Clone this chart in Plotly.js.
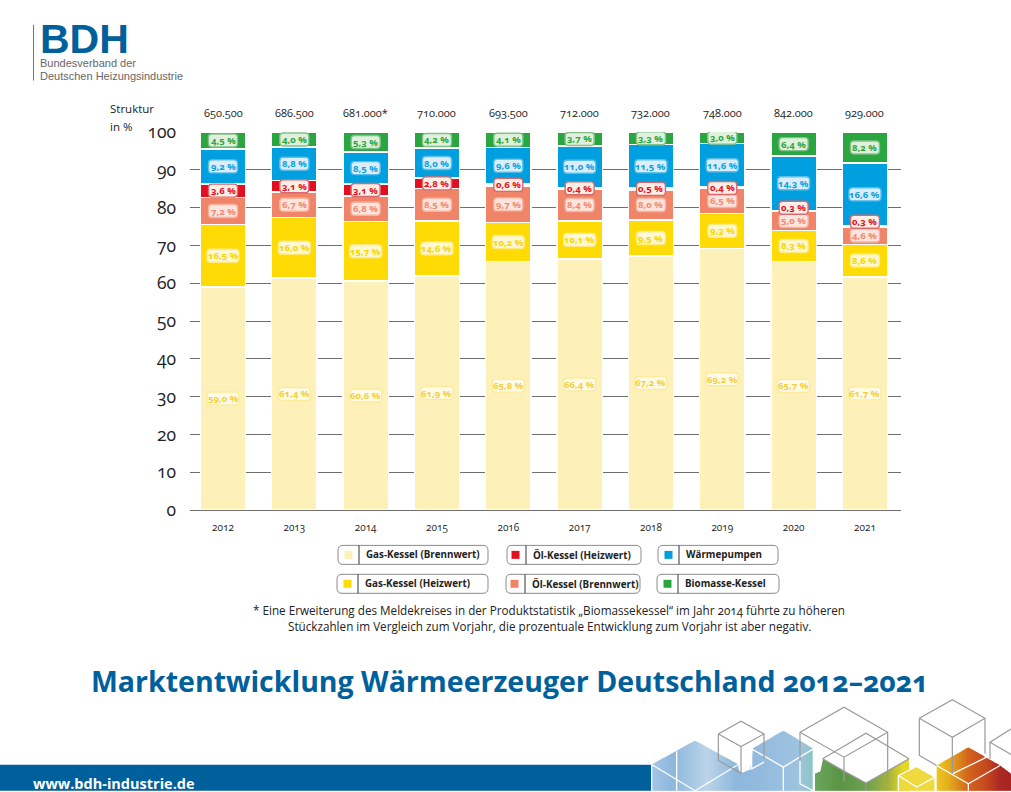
<!DOCTYPE html>
<html><head><meta charset="utf-8">
<script src="https://cdn.plot.ly/plotly-3.0.1.min.js"></script>
<style>html,body{margin:0;padding:0;background:#fff}
#c{width:1011px;height:792px}
svg text{font-feature-settings:"onum" 1,"lnum" 0;font-variant-numeric:oldstyle-nums}</style>
</head><body><div id="c"></div>
<script>
const years=["2012","2013","2014","2015","2016","2017","2018","2019","2020","2021"];
const totals=["650.500","686.500","681.000*","710.000","693.500","712.000","732.000","748.000","842.000","929.000"];
const gasBrennwert=[59.0,61.4,60.6,61.9,65.8,66.4,67.2,69.2,65.7,61.7];
const gasHeizwert=[16.5,16.0,15.7,14.6,10.2,10.1,9.5,9.3,8.3,8.6];
const oelBrennwert=[7.2,6.7,6.8,8.5,9.7,8.4,8.0,6.5,5.0,4.6];
const oelHeizwert=[3.6,3.1,3.1,2.8,0.6,0.4,0.5,0.4,0.3,0.3];
const waermepumpen=[9.2,8.8,8.5,8.0,9.6,11.0,11.5,11.6,14.3,16.6];
const biomasse=[4.5,4.0,5.3,4.2,4.1,3.7,3.3,3.0,6.4,8.2];
const oelLabelNudge=[0,0,0,0,0,0,0,0,0.8,1.2];
const yTicks=[0,10,20,30,40,50,60,70,80,90,100];
const FONT='"Open Sans",sans-serif';
const LIB='"Liberation Sans",sans-serif';
const BLUE='#00609b';
const series=[
 {name:'Gas-Kessel (Brennwert)',v:gasBrennwert,c:'#fdf0b9',t:'#f4cf3a',f:'#fffbe6',s:'#fdeb9c'},
 {name:'Gas-Kessel (Heizwert)',v:gasHeizwert,c:'#ffdb05',t:'#f9d400',f:'#fff8d2',s:'#ffea7a'},
 {name:'Öl-Kessel (Brennwert)',v:oelBrennwert,c:'#ef8468',t:'#f08a70',f:'#fde4dc',s:'#f6b3a0'},
 {name:'Öl-Kessel (Heizwert)',v:oelHeizwert,c:'#e30f21',t:'#e30f21',f:'#fdeee6',s:'#d9696e'},
 {name:'Wärmepumpen',v:waermepumpen,c:'#009fdf',t:'#0a9fdf',f:'#d9eefa',s:'#5cbfea'},
 {name:'Biomasse-Kessel',v:biomasse,c:'#2aa640',t:'#2aa640',f:'#dff0dc',s:'#84c18a'}
];
const L=190,R=901,T=131.5,B=510.5;
const xp=x=>(x-L)/(R-L), yp=y=>(B-y)/(B-T);
const traces=series.map(s=>({type:'bar',name:s.name,x:years,y:s.v,width:0.635,
  marker:{color:s.c,line:{color:'#fff',width:1.5}},hovertemplate:'%{x}: %{y} %<extra>'+s.name+'</extra>'}));
const shapes=[],ann=[];
function txt(x,y,text,size,color,o){o=o||{};const left=!o.xanchor;const a={xref:'paper',yref:'paper',x:xp(left?x-2:x),y:yp(y),text,showarrow:false,
  font:{family:o.family||FONT,size,color},xanchor:o.xanchor||'left',yanchor:'middle'};if(o.height)a.height=o.height;ann.push(a);}
function rr(w,h,r){const a=w/2,b=h/2;return `M${-a+r},${-b} L${a-r},${-b} Q${a},${-b} ${a},${-b+r} L${a},${b-r} Q${a},${b} ${a-r},${b} L${-a+r},${b} Q${-a},${b} ${-a},${b-r} L${-a},${-b+r} Q${-a},${-b} ${-a+r},${-b} Z`;}
// value pills
series.forEach((s,si)=>{
  years.forEach((yr,i)=>{
    let base=0;for(let k=0;k<si;k++)base+=series[k].v[i];
    let mid=base+s.v[i]/2; if(si===3)mid+=oelLabelNudge[i];
    const label=s.v[i].toFixed(1).replace('.',',')+' %';
    const w=label.length>5?32:29;
    shapes.push({type:'path',layer:'above',xref:'x',yref:'y',xsizemode:'pixel',ysizemode:'pixel',xanchor:i,yanchor:mid,
      path:rr(w,13,3.5),fillcolor:s.f,line:{color:s.s,width:1.4}});
    ann.push({xref:'x',yref:'y',x:i,y:mid,text:'<b>'+label+'</b>',showarrow:false,font:{family:FONT,size:9.5,color:s.t},xanchor:'center',yanchor:'middle'});
  });
  });
// totals
years.forEach((yr,i)=>{ann.push({xref:'x',yref:'paper',x:i,y:yp(111.5),text:totals[i],showarrow:false,font:{family:FONT,size:11,color:'#222'},xanchor:'center',yanchor:'middle'});});
txt(110,108,'Struktur',11.5,'#222');txt(110,126,'in %',11.5,'#222');
// legend
const legend=[[0,338,488,359,546],[3,507,641,526,546],[4,658,778,679,546],[1,337,488,358,575],[2,506,640,525,575],[5,657,779,678,575]];
legend.forEach(([si,x0,x1,d,y])=>{
  const s=series[si],h=19;
  shapes.push({type:'path',layer:'above',xref:'paper',yref:'paper',xsizemode:'pixel',ysizemode:'pixel',xanchor:xp((x0+x1)/2),yanchor:yp(y+h/2),
    path:rr(x1-x0,h,5),fillcolor:'#fff',line:{color:'#8a8a8a',width:1}});
  shapes.push({type:'line',layer:'above',xref:'paper',yref:'paper',x0:xp(d),x1:xp(d),y0:yp(y),y1:yp(y+h),line:{color:'#333',width:1}});
  shapes.push({type:'rect',layer:'above',xref:'paper',yref:'paper',x0:xp(d-14.5),x1:xp(d-6.5),y0:yp(y+5.5),y1:yp(y+13.5),fillcolor:s.c,line:{width:0}});
  txt(d+7,y+h/2,'<b>'+s.name+'</b>',9.8,'#222');
});
// footnote
txt(549,611,'* Eine Erweiterung des Meldekreises in der Produktstatistik „Biomassekessel“ im Jahr 2014 führte zu höheren',11.7,'#222',{xanchor:'center'});
txt(549,627,'Stückzahlen im Vergleich zum Vorjahr, die prozentuale Entwicklung zum Vorjahr ist aber negativ.',11.7,'#222',{xanchor:'center'});
// title
txt(510,682,'<b>Marktentwicklung Wärmeerzeuger Deutschland 2012–2021</b>',28.5,BLUE,{xanchor:'center'});
// logo
shapes.push({type:'line',xref:'paper',yref:'paper',x0:xp(33.5),x1:xp(33.5),y0:yp(24),y1:yp(80),line:{color:'#777',width:1}});
txt(40,38,'<b>BDH</b>',41,BLUE,{family:LIB,height:34});
txt(40,62.5,'Bundesverband der',11,'#666',{family:LIB});
txt(40,75,'Deutschen Heizungsindustrie',11,'#666',{family:LIB});
// footer band & decoration (decoration points in a 3x local grid)
shapes.push({type:'rect',xref:'paper',yref:'paper',x0:xp(0),x1:xp(652),y0:yp(766),y1:yp(792),fillcolor:BLUE,line:{width:0}});
txt(33,785,'<b>www.bdh-industrie.de</b>',14.5,'#fff');
const zp=(pts,close)=>pts.map((p,i)=>(i?'L':'M')+xp(640+p[0]/3)+','+yp(695+p[1]/3)).join(' ')+(close?' Z':'');
function poly(pts,fill){shapes.push({type:'path',xref:'paper',yref:'paper',path:zp(pts,true),fillcolor:fill,line:{width:0}});}
function wire(pts,color,w){shapes.push({type:'path',xref:'paper',yref:'paper',path:zp(pts,false),line:{color,width:w||1.2}});}
const hex=c=>[1,3,5].map(i=>parseInt(c.substr(i,2),16));
function lerp(stops,x){for(let i=1;i<stops.length;i++){if(x<=stops[i][0]){const a=stops[i-1],b=stops[i],t=Math.max(0,(x-a[0])/(b[0]-a[0]));const A=hex(a[1]),Bc=hex(b[1]);return 'rgb('+A.map((v,k)=>Math.round(v+(Bc[k]-v)*t)).join(',')+')';}}return stops[stops.length-1][1];}
function topY(top,x){for(let i=1;i<top.length;i++){if(x<=top[i][0]&&top[i][0]>top[i-1][0]){const t=(x-top[i-1][0])/(top[i][0]-top[i-1][0]);return top[i-1][1]+(top[i][1]-top[i-1][1])*t;}}return top[top.length-1][1];}
function band(top,stops,dx){const x0=top[0][0],x1=top[top.length-1][0];for(let x=x0;x<x1;x+=dx){const e=Math.min(x+dx+4,x1);const m=Math.min(x+dx,x1);const pts=[[x,topY(top,x)],[m,topY(top,m)]];if(e>m)pts.push([e,Math.max(topY(top,e),topY(top,m))]);pts.push([e,291],[x,291]);poly(pts,lerp(stops,x+dx/2));}}
band([[35,212],[165,140],[295,212],[300,240],[335,225],[336,165],[430,110],[520,165]],
 [[35,'#a4c5e4'],[100,'#8db7dc'],[200,'#bcd4e9'],[290,'#8db7dc'],[430,'#9abfe0'],[480,'#9fc3df'],[520,'#8ac6c0']],8);
band([[525,240],[547,230],[548,195],[612,232],[678,268],[807,195]],
 [[525,'#6aa65c'],[600,'#5a9545'],[680,'#6ea04f'],[745,'#a6b33b'],[790,'#e3d824'],[807,'#e3d824']],8);
poly([[775,245],[830,218],[885,250],[885,291],[775,291]],'#eed93f');
band([[890,215],[985,160],[1080,215],[1113,240]],
 [[890,'#ecc81f'],[930,'#e2a81e'],[985,'#d2641d'],[1040,'#c4481f'],[1080,'#ac2822'],[1113,'#a82422']],8);
[[[35,212],[165,291]],[[110,172],[110,291]],[[295,212],[165,291]],[[335,165],[430,220],[520,165]],[[430,220],[430,291]],[[335,165],[335,225],[372,205]],
 [[480,200],[480,270],[520,291]],[[520,165],[520,291]],[[775,245],[830,280],[885,250]],[[775,245],[830,218],[885,250],[885,291]],[[775,245],[775,291]],[[890,215],[985,270],[1080,215]],[[937,240],[1040,190]],[[985,270],[985,291]],[[35,212],[35,291]]].forEach(p=>wire(p,'#ffffff',1.3));
const G='#9a9a9a';
[[[235,120],[303,82],[372,120],[372,195]],[[235,120],[303,158],[372,120]],[[303,158],[303,238]],[[235,120],[235,200],[303,238]],
 [[480,115],[612,40],[743,115],[743,270]],[[480,115],[612,190],[743,115]],[[612,190],[612,265]],[[480,115],[480,200]],
 [[548,195],[678,118],[807,195]],[[548,195],[612,232]],[[678,268],[807,195]],[[612,232],[678,268],[678,291]],
 [[838,73],[937,17],[1035,73],[1035,180]],[[838,73],[937,130],[1035,73]],[[937,130],[937,240]],[[838,73],[838,185],[890,215]],
 [[1113,105],[1050,145],[1113,182]],[[1050,145],[1050,195]]].forEach(p=>wire(p,G,1.2));

const layout={width:1011,height:792,margin:{l:L,r:1011-R,t:T,b:792-B,pad:0},barmode:'stack',showlegend:false,
 paper_bgcolor:'#fff',plot_bgcolor:'#fff',font:{family:FONT},
 xaxis:{type:'category',categoryorder:'array',categoryarray:years,range:[(L-223)/71.33,(R-223)/71.33],tickvals:years,ticktext:years,
   tickfont:{family:FONT,size:10,color:'#222'},ticklen:0,ticks:'',showgrid:false,zeroline:false,showline:false,automargin:false,ticklabelstandoff:10},
 yaxis:{range:[0,100],tickvals:yTicks,ticktext:yTicks.map(String),tickfont:{family:FONT,size:17.5,color:'#222'},ticks:'',ticklen:0,
   showgrid:true,gridcolor:'#6f6f6f',gridwidth:1,zeroline:true,zerolinecolor:'#6f6f6f',zerolinewidth:1,automargin:false,ticklabelstandoff:13},
 shapes,annotations:ann};
Plotly.newPlot('c',traces,layout,{displayModeBar:false,responsive:false});
</script></body></html>
